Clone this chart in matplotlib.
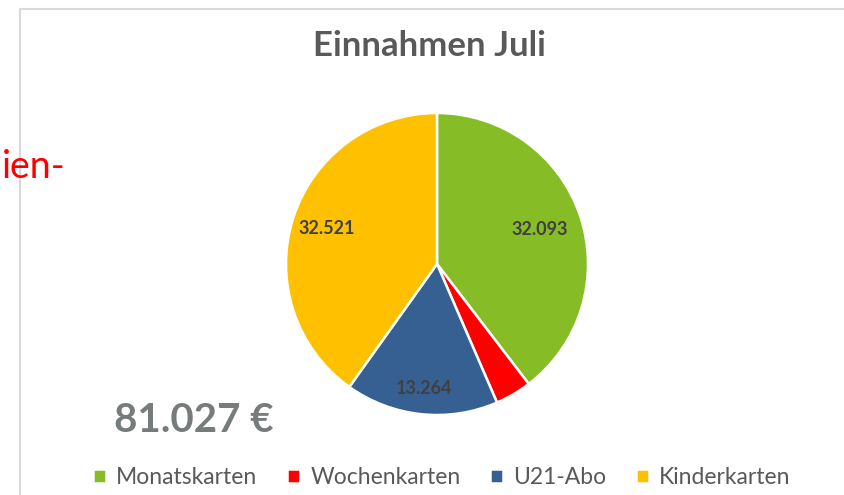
import matplotlib.pyplot as plt
from matplotlib.lines import Line2D
import numpy as np

categories = ["Monatskarten", "Wochenkarten", "U21-Abo", "Kinderkarten"]
values = [32093, 3149, 13264, 32521]
colors = ["#86bc25", "#ff0000", "#366092", "#ffc000"]
show_label = [True, False, True, True]
total_text = "81.027 €"
title = "Einnahmen Juli"

plt.rcParams['font.family'] = ['Lato', 'DejaVu Sans']

fig = plt.figure(figsize=(8.45, 4.95), dpi=100)
W, H = 845, 495

# chart frame (light grey border, clipped by screenshot)
fig.add_artist(Line2D([20 / W, 1], [1 - 8.5 / H, 1 - 8.5 / H], color="#d9d9d9", lw=1.5))
fig.add_artist(Line2D([20 / W, 20 / W], [0, 1 - 8.5 / H], color="#d9d9d9", lw=1.5))

# pie axes: centre (437, 264), radius 151 px
cx, cy, r = 437, 264, 151
ax = fig.add_axes([(cx - r) / W, (H - cy - r) / H, 2 * r / W, 2 * r / H])
wedges, _ = ax.pie(values, colors=colors, startangle=90, counterclock=False,
                   radius=1, wedgeprops=dict(edgecolor="white", linewidth=1.8))
ax.set_xlim(-1, 1)
ax.set_ylim(-1, 1)
ax.set_aspect("equal")
ax.axis("off")

dist = [0.72, 0.8, 0.83, 0.77]
for w, v, d, s in zip(wedges, values, dist, show_label):
    if not s:
        continue
    ang = np.deg2rad((w.theta1 + w.theta2) / 2)
    ax.text(d * np.cos(ang), d * np.sin(ang), f"{v:,}".replace(",", "."),
            ha="center", va="center", fontsize=13, fontweight="bold", color="#404040")

fig.text(429 / W, 1 - 46 / H, title, ha="center", va="center",
         fontsize=25, fontweight="bold", color="#595959")

fig.text(194 / W, 1 - 420 / H, total_text, ha="center", va="center",
         fontsize=29, fontweight="bold", color="#767b7b")

fig.text(66 / W, 1 - 167 / H, "ien-", ha="right", va="center",
         fontsize=27, color="#ff0000")

fig.legend(wedges, categories, loc="center", bbox_to_anchor=(442 / W, 1 - 478 / H),
           ncol=4, frameon=False, fontsize=16.5, labelcolor="#595959",
           handlelength=0.55, handleheight=0.55, handletextpad=0.45, columnspacing=1.3,
           borderaxespad=0)

fig.savefig("out.png", dpi=100)
